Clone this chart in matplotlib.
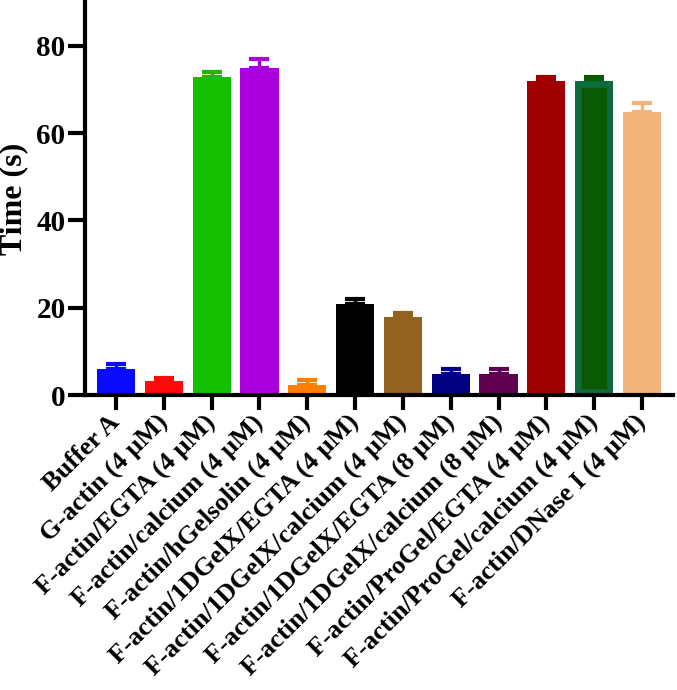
import matplotlib
matplotlib.use("Agg")
import matplotlib.pyplot as plt
import numpy as np

categories = ["Buffer A", "G-actin (4 μM)", "F-actin/EGTA (4 μM)", "F-actin/calcium (4 μM)",
              "F-actin/hGelsolin (4 μM)", "F-actin/1DGelX/EGTA (4 μM)",
              "F-actin/1DGelX/calcium (4 μM)", "F-actin/1DGelX/EGTA (8 μM)",
              "F-actin/1DGelX/calcium (8 μM)", "F-actin/ProGel/EGTA (4 μM)",
              "F-actin/ProGel/calcium (4 μM)", "F-actin/DNase I (4 μM)"]
values = [5.9, 3.2, 72.8, 74.8, 2.4, 20.8, 17.8, 4.8, 4.8, 71.8, 71.8, 64.8]
errors = [1.1, 0.8, 1.1, 2.2, 1.0, 1.1, 1.0, 1.1, 1.1, 1.0, 1.0, 2.0]
colors = ["#0a0aff", "#ff0a0a", "#14bf00", "#aa00dd", "#ff8000", "#000000",
          "#93621f", "#000080", "#600050", "#a00000", "#0a5a05", "#f2b47b"]
edgecolors = ["none"] * 10 + ["#0e6b3e", "none"]
yticks = [0, 20, 40, 60, 80]

plt.rcParams['font.family'] = ['Liberation Serif', 'DejaVu Serif']
plt.rcParams['font.weight'] = 'bold'

fig = plt.figure(figsize=(6.77, 6.90), dpi=100)
ax = fig.add_axes([85/677, 1-395/690, 588/677, 393/690])

x = np.arange(len(categories))
bars = ax.bar(x, values, width=0.8, color=colors, zorder=2)
for b, ec in zip(bars, edgecolors):
    if ec != "none":
        b.set_edgecolor(ec)
        b.set_linewidth(9)
        b.set_clip_path(b)
for xi, v, e, c in zip(x, values, errors, colors):
    ax.errorbar(xi, v, yerr=[[0], [e]], color=c, capsize=7, capthick=3,
                elinewidth=2.5, zorder=1)

ax.set_xlim(-0.65, 11.65)
ax.set_ylim(0, 90)
ax.set_yticks(yticks)
ax.set_xticks(x)
ax.set_xticklabels(categories, rotation=45, ha='right', va='center',
                   rotation_mode='anchor', fontsize=19, fontweight='bold')
ax.tick_params(axis='y', labelsize=21, length=12, width=3, pad=2)
ax.tick_params(axis='x', length=11, width=3, pad=6)
for lab in ax.get_yticklabels():
    lab.set_fontweight('bold')
ax.set_ylabel("Time (s)", fontsize=23, fontweight='bold', labelpad=6)
for s in ['top', 'right']:
    ax.spines[s].set_visible(False)
for s in ['left', 'bottom']:
    ax.spines[s].set_linewidth(3)

fig.savefig("out.png", dpi=100)
